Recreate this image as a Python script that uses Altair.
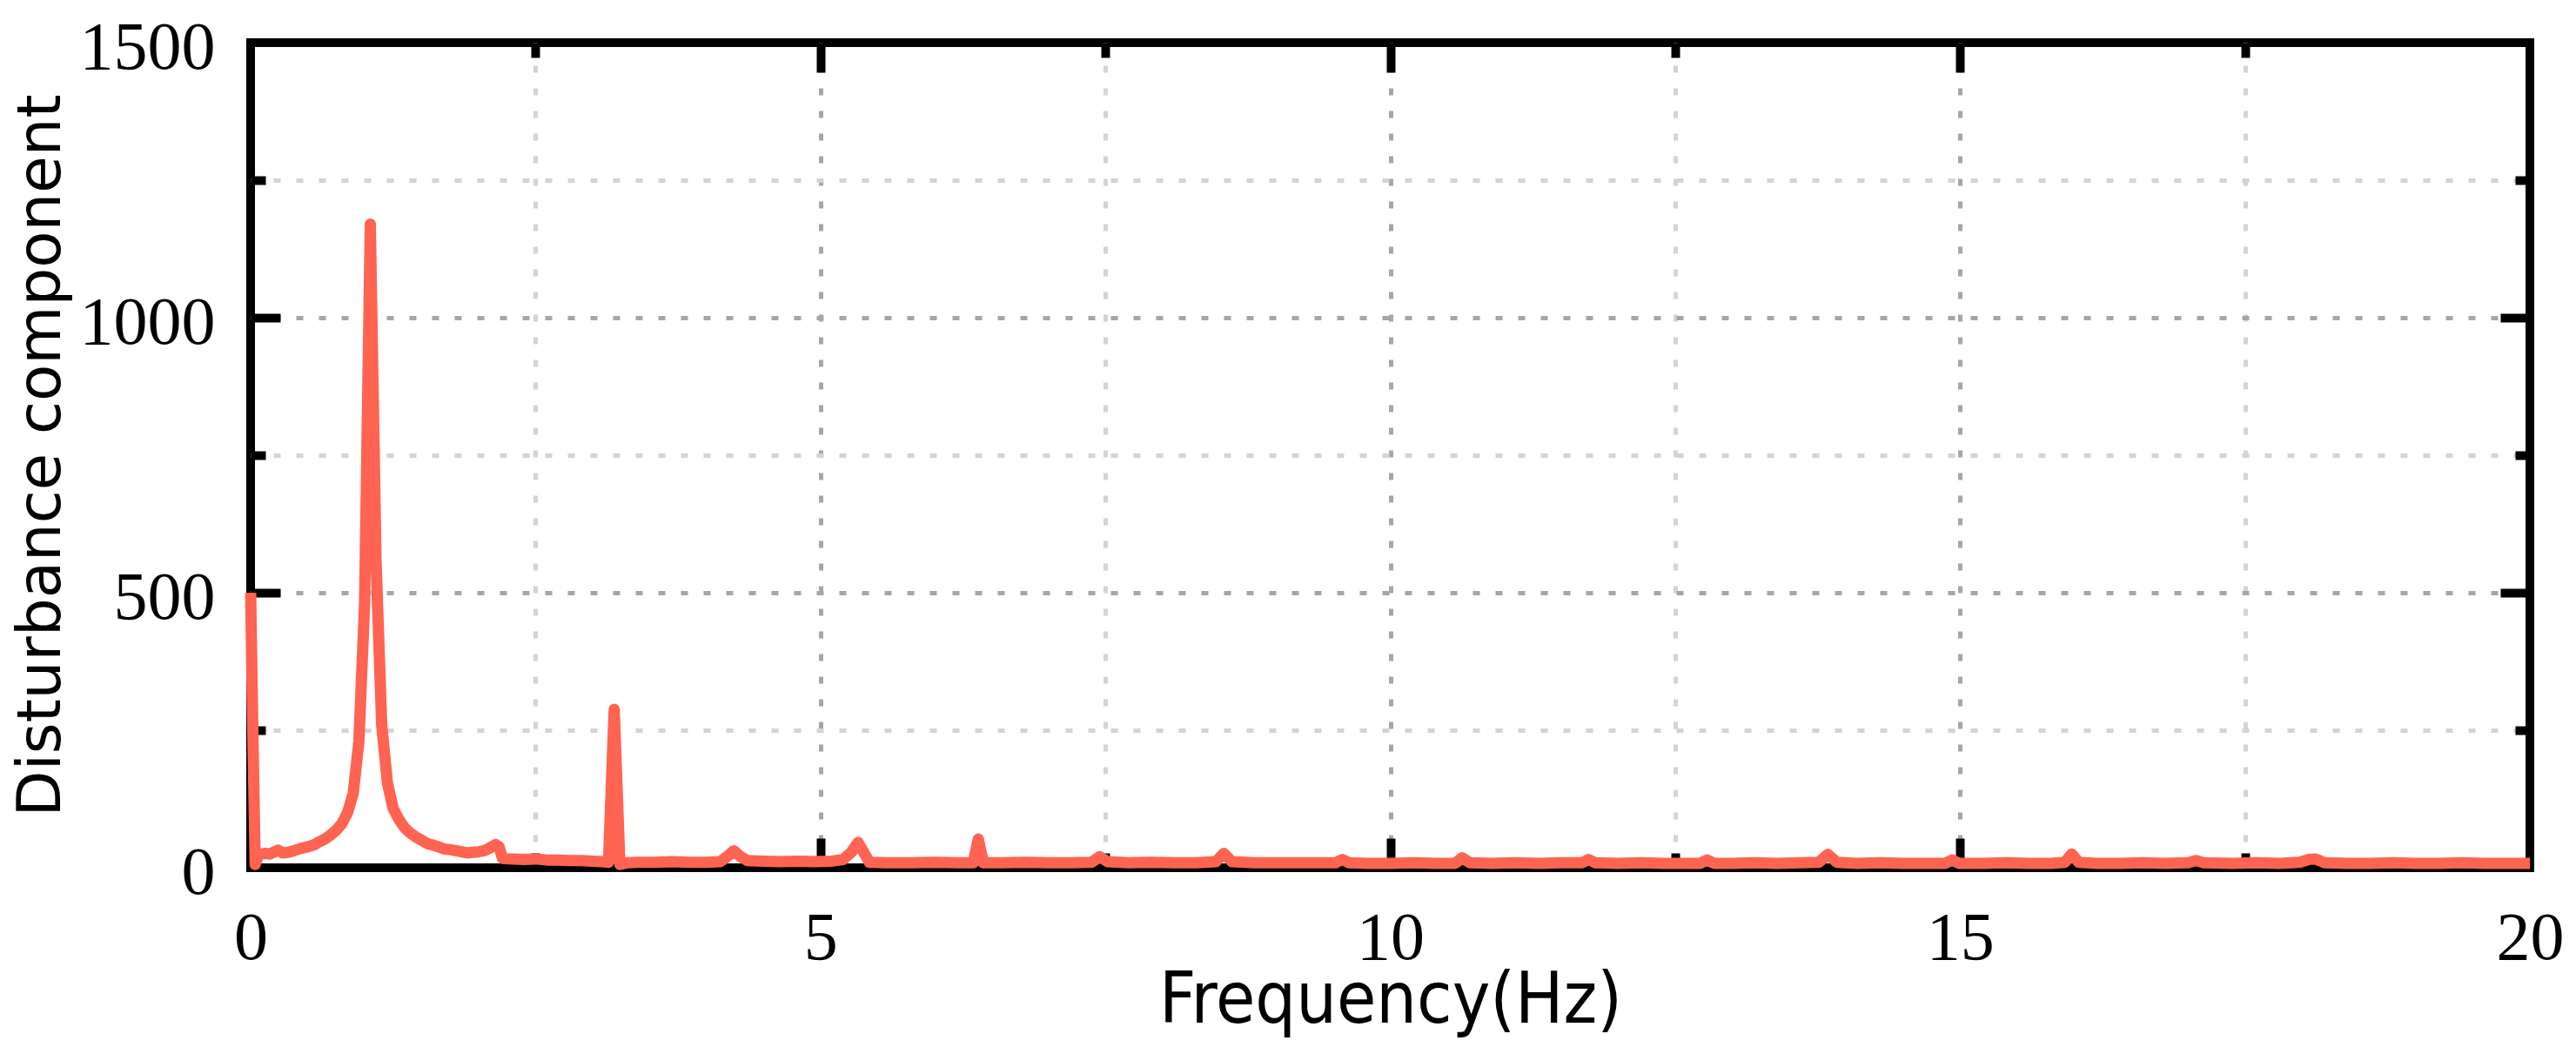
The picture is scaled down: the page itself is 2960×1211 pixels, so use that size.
import altair as alt
import pandas as pd

# ---- data (frequency in Hz, amplitude) ----
FREQ = [
    0.00, 0.02, 0.04, 0.07, 0.12, 0.17, 0.21, 0.24, 0.28, 0.33, 0.38, 0.44,
    0.50, 0.55, 0.60, 0.65, 0.70, 0.75, 0.80, 0.85, 0.90, 0.95, 1.00, 1.05,
    1.10, 1.15, 1.20, 1.25, 1.30, 1.35, 1.40, 1.45, 1.50, 1.55, 1.60, 1.65,
    1.70, 1.75, 1.80, 1.85, 1.90, 1.95, 2.00, 2.05, 2.10, 2.15, 2.18, 2.21,
    2.30, 2.40, 2.50, 2.60, 2.70, 2.80, 2.90, 3.00, 3.08, 3.14, 3.19, 3.24,
    3.30, 3.40, 3.55, 3.70, 3.85, 4.00, 4.12, 4.18, 4.24, 4.30, 4.36, 4.50,
    4.65, 4.80, 4.95, 5.10, 5.20, 5.27, 5.33, 5.38, 5.43, 5.60, 5.80, 6.00,
    6.20, 6.34, 6.385, 6.43, 6.60, 6.80, 7.00, 7.20, 7.38, 7.45, 7.52, 7.70,
    7.90, 8.10, 8.30, 8.47, 8.54, 8.61, 8.80, 9.00, 9.20, 9.40, 9.52, 9.58,
    9.64, 9.80, 10.00, 10.20, 10.40, 10.57, 10.63, 10.70, 10.90, 11.10, 11.30,
    11.50, 11.68, 11.74, 11.80, 12.00, 12.20, 12.40, 12.60, 12.72, 12.78,
    12.84, 13.00, 13.20, 13.40, 13.60, 13.76, 13.84, 13.92, 14.10, 14.30,
    14.50, 14.70, 14.87, 14.93, 14.99, 15.20, 15.40, 15.60, 15.80, 15.92,
    15.98, 16.04, 16.20, 16.40, 16.60, 16.80, 17.00, 17.07, 17.14, 17.40,
    17.60, 17.80, 17.98, 18.06, 18.12, 18.20, 18.40, 18.60, 18.80, 19.00,
    19.20, 19.40, 19.60, 19.80, 20.00,
]
AMP = [
    500, 240, 6, 24, 26, 25, 29, 32, 27, 28, 31, 35,
    38, 41, 47, 52, 59, 68, 80, 100, 135, 230, 480, 1170,
    560, 260, 155, 108, 88, 73, 63, 56, 50, 44, 41, 38,
    34, 33, 31, 29, 27, 28, 29, 31, 36, 42, 38, 17,
    16, 15, 16, 14, 14, 13, 13, 12, 11, 10, 288, 6,
    9, 10, 10, 11, 10, 10, 11, 20, 31, 20, 13, 12,
    11, 12, 11, 12, 15, 28, 46, 28, 10, 9, 9, 10,
    9, 9, 52, 9, 9, 10, 9, 9, 10, 20, 11, 9,
    10, 9, 9, 11, 26, 11, 9, 9, 9, 9, 9, 15,
    9, 8, 8, 9, 8, 8, 18, 9, 8, 9, 8,
    9, 9, 15, 9, 8, 9, 8, 8, 8, 14,
    8, 8, 9, 8, 9, 10, 24, 10, 8, 9,
    8, 8, 8, 14, 8, 8, 9, 8, 8, 10,
    25, 10, 8, 8, 9, 8, 9, 13, 9, 8,
    9, 8, 10, 15, 16, 9, 8, 8, 9, 8,
    8, 9, 8, 8, 8,
]

X_AXIS_VALUES = [0, 2.5, 5, 7.5, 10, 12.5, 15, 17.5, 20]
X_INNER_TICKS = [2.5, 5, 7.5, 10, 12.5, 15, 17.5]
Y_AXIS_VALUES = [0, 250, 500, 750, 1000, 1250, 1500]
Y_INNER_TICKS = [250, 500, 750, 1000, 1250]

X_TITLE = "Frequency(Hz)"
Y_TITLE = "Disturbance component"

df = pd.DataFrame({"f": FREQ, "a": AMP})

W, H = 2619, 948
LINE_COLOR = "#FF6352"
MAJOR_GRID = "#a6a6a6"
MINOR_GRID = "#d4d4d4"
TICK_FONT = "Liberation Serif"

xs = alt.Scale(domain=[0, 20], nice=False, zero=False)
ys = alt.Scale(domain=[0, 1500], nice=False)

x_major = "datum.value % 5 === 0"
y_major = "datum.value % 500 === 0"

x_main = alt.Axis(
    orient="bottom", values=X_AXIS_VALUES, domain=False, ticks=False, tickSize=0,
    labelExpr="datum.value % 5 === 0 ? '' + datum.value : ''",
    labelFont=TICK_FONT, labelFontSize=78, labelColor="black", labelPadding=42,
    labelFlush=False, labelOverlap=False, labelBound=False,
    grid=True, gridWidth=5, gridDash=[8, 18],
    gridColor={"condition": {"test": x_major, "value": MAJOR_GRID}, "value": MINOR_GRID},
    gridOpacity={"condition": {"test": "datum.value === 0 || datum.value === 20", "value": 0}, "value": 1},
    title=X_TITLE, titleFont="DejaVu Sans Condensed", titleFontSize=82,
    titleFontWeight="normal", titleColor="black", titleBaseline="alphabetic",
    titleY=177, zindex=0,
)
y_main = alt.Axis(
    orient="left", values=Y_AXIS_VALUES, domain=False, ticks=False, tickSize=0,
    labelExpr="datum.value % 500 === 0 ? '' + datum.value : ''",
    labelFont=TICK_FONT, labelFontSize=78, labelColor="black", labelPadding=41,
    labelOffset=6, labelFlush=False, labelOverlap=False, labelBound=False,
    grid=True, gridWidth=5, gridDash=[8, 18],
    gridColor={"condition": {"test": y_major, "value": MAJOR_GRID}, "value": MINOR_GRID},
    gridOpacity={"condition": {"test": "datum.value === 0 || datum.value === 1500", "value": 0}, "value": 1},
    title=Y_TITLE, titleFont="DejaVu Sans", titleFontSize=69, titleFontWeight="normal",
    titleColor="black", titleAngle=270, titleBaseline="alphabetic", titleAlign="center",
    titleX=-220, titleY=474, zindex=0,
)


def tick_axis(orient, values, test, offset):
    return alt.Axis(
        orient=orient, offset=offset, values=values, labels=False, domain=False,
        grid=False, ticks=True, title=None, tickColor="black", tickWidth=10,
        tickSize={"condition": {"test": test, "value": 34}, "value": 17},
        zindex=0,
    )


# inward ticks: an axis on the opposite side, shifted across the plot
x_bottom_ticks = tick_axis("top", X_INNER_TICKS, x_major, -H)
x_top_ticks = tick_axis("bottom", X_INNER_TICKS, x_major, -H)
y_left_ticks = tick_axis("right", Y_INNER_TICKS, y_major, -W)
y_right_ticks = tick_axis("left", Y_INNER_TICKS, y_major, -W)

base = alt.Chart(df)

l1 = base.mark_line(strokeOpacity=0).encode(
    x=alt.X("f:Q", scale=xs, axis=x_main),
    y=alt.Y("a:Q", scale=ys, axis=y_main),
)
l2 = base.mark_line(strokeOpacity=0).encode(
    x=alt.X("f:Q", scale=xs, axis=x_bottom_ticks),
    y=alt.Y("a:Q", scale=ys, axis=y_left_ticks),
)
l3 = base.mark_line(
    color=LINE_COLOR, strokeWidth=13, strokeJoin="round", strokeCap="butt"
).encode(
    x=alt.X("f:Q", scale=xs, axis=x_top_ticks),
    y=alt.Y("a:Q", scale=ys, axis=y_right_ticks),
)

chart = (
    alt.layer(l1, l2, l3)
    .resolve_axis(x="independent", y="independent")
    .properties(
        width=W, height=H,
        padding={"left": 280, "top": 41, "right": 45, "bottom": 206},
        autosize=alt.AutoSizeParams(type="none"),
        background="white",
    )
    .configure_view(stroke="black", strokeWidth=10)
)

chart.save("out.html", embed_options={"renderer": "svg", "actions": False})
